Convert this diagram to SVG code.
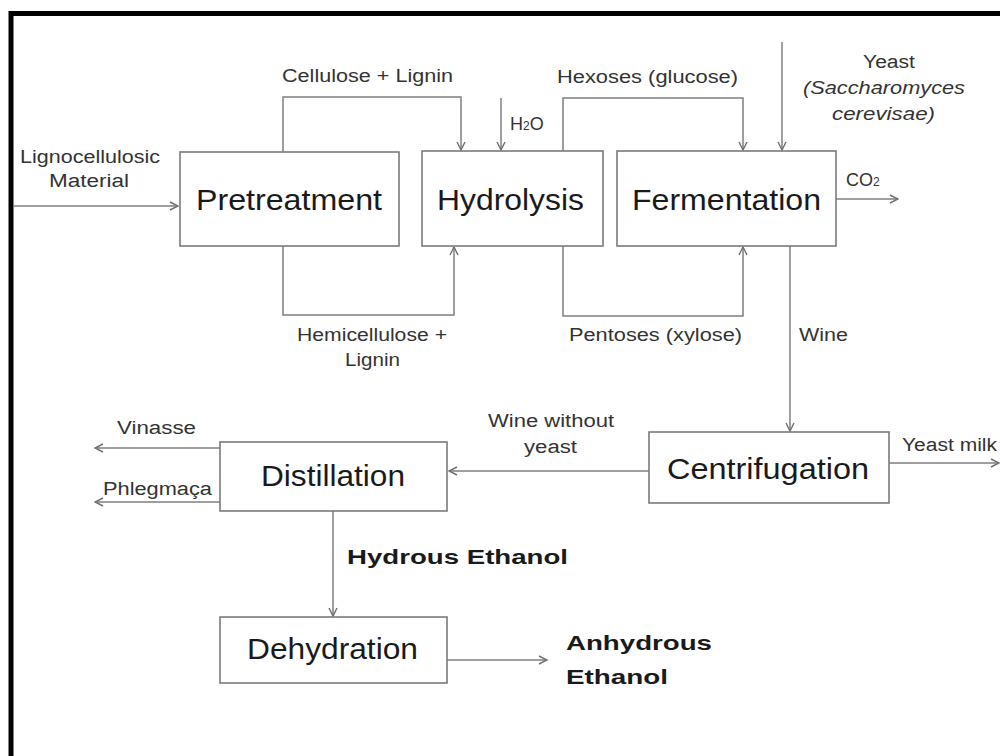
<svg xmlns="http://www.w3.org/2000/svg" width="1000" height="756" viewBox="0 0 1000 756">
<style>
.box{fill:#fff;stroke:#7a7a7a;stroke-width:1.6}
.big{font-family:"Liberation Sans",Arial,sans-serif;font-size:29px;fill:#1a1a1a;text-anchor:start}
.lbl{font-family:"Liberation Sans",Arial,sans-serif;font-size:18px;fill:#333}
.bold{font-family:"Liberation Sans",Arial,sans-serif;font-size:21px;font-weight:bold;fill:#1a1a1a}
.c{fill:none;stroke:#7f7f7f;stroke-width:1.5}
</style>
<defs>
<marker id="ah" viewBox="0 0 10 10" refX="9" refY="5" markerWidth="10" markerHeight="10" markerUnits="userSpaceOnUse" orient="auto">
<path d="M1,1 L9,5 L1,9" fill="none" stroke="#6f6f6f" stroke-width="1.4"/>
</marker>
</defs>
<rect width="1000" height="756" fill="#fff"/>
<path d="M11,756 V13.5 H1000" fill="none" stroke="#000" stroke-width="5"/>
<g id="connectors">
<path class="c" d="M13,206 H178" marker-end="url(#ah)"/>
<path class="c" d="M283,152 V97 H461 V150" marker-end="url(#ah)"/>
<path class="c" d="M283,246 V315 H454 V247" marker-end="url(#ah)"/>
<path class="c" d="M501,98 V150" marker-end="url(#ah)"/>
<path class="c" d="M563,151 V98 H743 V150" marker-end="url(#ah)"/>
<path class="c" d="M563,246 V316 H743 V247" marker-end="url(#ah)"/>
<path class="c" d="M782,42 V150" marker-end="url(#ah)"/>
<path class="c" d="M836,199 H898" marker-end="url(#ah)"/>
<path class="c" d="M790,246 V431" marker-end="url(#ah)"/>
<path class="c" d="M649,471 H449" marker-end="url(#ah)"/>
<path class="c" d="M889,463 H999" marker-end="url(#ah)"/>
<path class="c" d="M220,448 H95" marker-end="url(#ah)"/>
<path class="c" d="M220,502 H95" marker-end="url(#ah)"/>
<path class="c" d="M333,511 V616" marker-end="url(#ah)"/>
<path class="c" d="M447,660 H547" marker-end="url(#ah)"/>
</g>
<g id="pretreatment"><rect class="box" x="180" y="152" width="219" height="94"/><text class="big" x="196" y="210" textLength="186" lengthAdjust="spacingAndGlyphs">Pretreatment</text></g>
<g id="hydrolysis"><rect class="box" x="422" y="151" width="181" height="95"/><text class="big" x="437" y="210" textLength="147" lengthAdjust="spacingAndGlyphs">Hydrolysis</text></g>
<g id="fermentation"><rect class="box" x="617" y="151" width="219" height="95"/><text class="big" x="632" y="210" textLength="189" lengthAdjust="spacingAndGlyphs">Fermentation</text></g>
<g id="centrifugation"><rect class="box" x="649" y="432" width="240" height="71"/><text class="big" x="667" y="479" textLength="202" lengthAdjust="spacingAndGlyphs">Centrifugation</text></g>
<g id="distillation"><rect class="box" x="220" y="442" width="227" height="69"/><text class="big" x="261" y="486" textLength="144" lengthAdjust="spacingAndGlyphs">Distillation</text></g>
<g id="dehydration"><rect class="box" x="220" y="617" width="227" height="66"/><text class="big" x="247" y="659" textLength="171" lengthAdjust="spacingAndGlyphs">Dehydration</text></g>
<g id="labels">
<text class="lbl" x="20" y="163" textLength="140" lengthAdjust="spacingAndGlyphs">Lignocellulosic</text>
<text class="lbl" x="49" y="187" textLength="80" lengthAdjust="spacingAndGlyphs">Material</text>
<text class="lbl" x="282" y="82" textLength="171" lengthAdjust="spacingAndGlyphs">Cellulose + Lignin</text>
<text class="lbl" x="557" y="83" textLength="181" lengthAdjust="spacingAndGlyphs">Hexoses (glucose)</text>
<text class="lbl" x="510" y="130">H<tspan font-size="12">2</tspan>O</text>
<text class="lbl" x="863" y="68" textLength="52" lengthAdjust="spacingAndGlyphs">Yeast</text>
<text class="lbl" x="803" y="94" font-style="italic" textLength="162" lengthAdjust="spacingAndGlyphs">(Saccharomyces</text>
<text class="lbl" x="832" y="120" font-style="italic" textLength="103" lengthAdjust="spacingAndGlyphs">cerevisae)</text>
<text class="lbl" x="846" y="186">CO<tspan font-size="12">2</tspan></text>
<text class="lbl" x="297" y="341" textLength="150" lengthAdjust="spacingAndGlyphs">Hemicellulose +</text>
<text class="lbl" x="345" y="366" textLength="55" lengthAdjust="spacingAndGlyphs">Lignin</text>
<text class="lbl" x="569" y="341" textLength="173" lengthAdjust="spacingAndGlyphs">Pentoses (xylose)</text>
<text class="lbl" x="799" y="341" textLength="49" lengthAdjust="spacingAndGlyphs">Wine</text>
<text class="lbl" x="488" y="427" textLength="126" lengthAdjust="spacingAndGlyphs">Wine without</text>
<text class="lbl" x="524" y="453" textLength="53" lengthAdjust="spacingAndGlyphs">yeast</text>
<text class="lbl" x="902" y="451" textLength="95" lengthAdjust="spacingAndGlyphs">Yeast milk</text>
<text class="lbl" x="117" y="434" textLength="79" lengthAdjust="spacingAndGlyphs">Vinasse</text>
<text class="lbl" x="103" y="495" textLength="109" lengthAdjust="spacingAndGlyphs">Phlegmaça</text>
<text class="bold" x="347" y="564" textLength="221" lengthAdjust="spacingAndGlyphs">Hydrous Ethanol</text>
<text class="bold" x="566" y="650" textLength="146" lengthAdjust="spacingAndGlyphs">Anhydrous</text>
<text class="bold" x="566" y="684" textLength="102" lengthAdjust="spacingAndGlyphs">Ethanol</text>
</g>
</svg>
